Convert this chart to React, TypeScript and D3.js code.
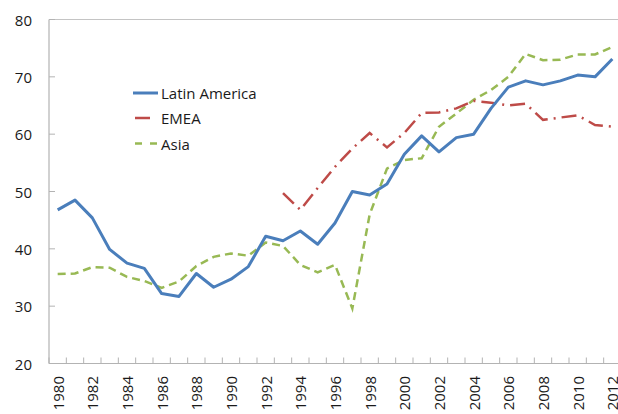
import React from "react";
import * as d3 from "d3";

const years: number[] = d3.range(1980, 2013);
const latinAmerica: number[] = [
  46.8, 48.5, 45.4, 39.9, 37.5, 36.6, 32.2, 31.7, 35.7, 33.3, 34.7, 36.9, 42.2, 41.4, 43.1, 40.8,
  44.5, 50.0, 49.4, 51.3, 56.5, 59.7, 56.9, 59.4, 60.0, 64.5, 68.2, 69.3, 68.6, 69.3, 70.3, 70.0, 73.1,
];
const emeaYears: number[] = d3.range(1993, 2013);
const emea: number[] = [
  49.7, 46.8, 50.6, 54.3, 57.5, 60.2, 57.7, 60.2, 63.7, 63.8, 64.5, 65.8, 65.5, 65.0, 65.3, 62.5,
  62.9, 63.3, 61.6, 61.3,
];
const asia: number[] = [
  35.6, 35.7, 36.8, 36.7, 35.1, 34.4, 33.2, 34.3, 37.0, 38.6, 39.2, 38.8, 41.1, 40.5, 37.2, 35.9,
  37.2, 29.6, 46.0, 54.0, 55.5, 55.8, 61.3, 63.6, 66.0, 67.7, 70.0, 74.0, 72.9, 73.0, 73.9, 73.9, 75.2,
];
const yTicks: number[] = [20, 30, 40, 50, 60, 70, 80];
const xTickLabels: number[] = d3.range(1980, 2013, 2);

const W = 618;
const H = 414;
const FONT = "'Open Sans', 'Noto Sans', sans-serif";

export default function App() {
  const x = d3.scaleBand<number>().domain(years).range([49, 621]).paddingInner(0).paddingOuter(0);
  const bw = x.bandwidth();
  const cx = (yr: number) => (x(yr) as number) + bw / 2;
  const y = d3.scaleLinear().domain([20, 80]).range([363.5, 19.5]);

  const line = d3
    .line<[number, number]>()
    .x((d) => cx(d[0]))
    .y((d) => y(d[1]));

  const laPts: [number, number][] = years.map((yr, i) => [yr, latinAmerica[i]]);
  const emPts: [number, number][] = emeaYears.map((yr, i) => [yr, emea[i]]);
  const asPts: [number, number][] = years.map((yr, i) => [yr, asia[i]]);

  const blue = "#4A7EBB";
  const red = "#BE4B48";
  const green = "#98B954";
  const axisColor = "#B3B3B3";

  const boundaries = d3.range(0, years.length + 1).map((i) => 49 + i * bw);

  return (
    <svg width={W} height={H} style={{ position: "absolute", left: 0, top: 0, background: "#fff" }}>
      {/* top border line */}
      <line x1={49} x2={W} y1={y(80)} y2={y(80)} stroke="#C4C4C4" strokeWidth={1.2} />
      {/* y axis */}
      <line x1={49} x2={49} y1={y(80)} y2={y(20)} stroke={axisColor} strokeWidth={1.2} />
      {yTicks.map((t) => (
        <g key={t}>
          <line x1={49} x2={55} y1={y(t)} y2={y(t)} stroke={axisColor} strokeWidth={1} />
          <text
            x={32}
            y={y(t)}
            textAnchor="end"
            dominantBaseline="central"
            fontFamily={FONT}
            fontSize={15}
            fill="#1a1a1a"
          >
            {t}
          </text>
        </g>
      ))}
      {/* x axis */}
      <line x1={49} x2={W} y1={y(20)} y2={y(20)} stroke={axisColor} strokeWidth={1.2} />
      {boundaries.map((bx, i) => (
        <line key={i} x1={bx} x2={bx} y1={y(20)} y2={y(20) - 6} stroke={axisColor} strokeWidth={1} />
      ))}
      {xTickLabels.map((yr) => (
        <text
          key={yr}
          transform={`translate(${cx(yr)},${376}) rotate(-90)`}
          textAnchor="end"
          dominantBaseline="central"
          fontFamily={FONT}
          fontSize={15}
          fill="#1a1a1a"
        >
          {yr}
        </text>
      ))}
      {/* series */}
      <path d={line(asPts) || ""} fill="none" stroke={green} strokeWidth={2.5} strokeDasharray="8,5" />
      <path d={line(emPts) || ""} fill="none" stroke={red} strokeWidth={2.5} strokeDasharray="15,6,2,6" />
      <path d={line(laPts) || ""} fill="none" stroke={blue} strokeWidth={3} strokeLinejoin="round" />
      {/* legend */}
      <g fontFamily={FONT} fontSize={15} fill="#1a1a1a">
        <line x1={133} x2={158} y1={93} y2={93} stroke={blue} strokeWidth={3} />
        <text x={161} y={93} dominantBaseline="central">Latin America</text>
        <line x1={135} x2={150} y1={118} y2={118} stroke={red} strokeWidth={2.5} />
        <text x={161} y={118} dominantBaseline="central">EMEA</text>
        <line x1={135} x2={157} y1={143.5} y2={143.5} stroke={green} strokeWidth={2.5} strokeDasharray="7,8" />
        <text x={161} y={143.5} dominantBaseline="central">Asia</text>
      </g>
    </svg>
  );
}
